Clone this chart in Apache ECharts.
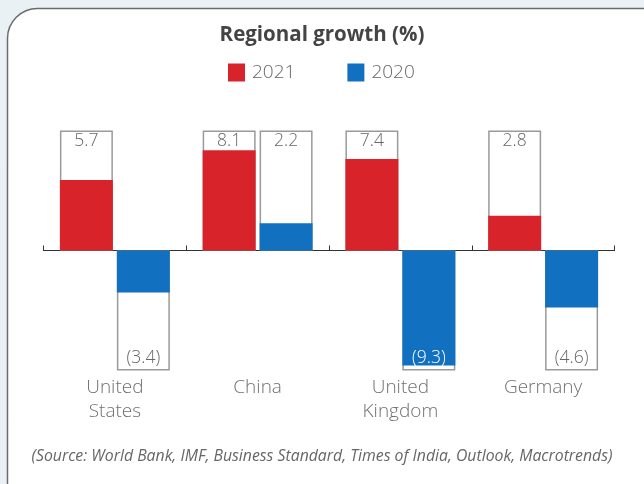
<!DOCTYPE html>
<html><head><meta charset="utf-8">
<script src="https://cdn.jsdelivr.net/npm/echarts@6/dist/echarts.min.js"></script>
<style>html,body{margin:0;padding:0;background:#e9f1f4;}#c{width:644px;height:484px;}</style>
</head><body><div id="c"></div>
<script>
const categories = ['United\nStates', 'China', 'United\nKingdom', 'Germany'];
const growth2021 = [5.7, 8.1, 7.4, 2.8];
const growth2020 = [-3.4, 2.2, -9.3, -4.6];
const seriesNames = ['2021', '2020'];
const BOX = 9.7;

const RED = '#d9232b', BLUE = '#1170bf';
const FONT = '"Open Sans", sans-serif';

function fmt(v){ return v < 0 ? '(' + Math.abs(v).toFixed(1) + ')' : v.toFixed(1); }
function boxData(arr){ return arr.map(v => v >= 0 ? BOX : -BOX); }
function labelData(arr){
  return arr.map(v => ({
    value: v >= 0 ? BOX : -BOX,
    label: {
      show: true,
      position: v >= 0 ? 'insideTop' : 'insideBottom',
      distance: v >= 0 ? 2 : 3,
      formatter: fmt(v),
      color: Math.abs(v) > BOX * 0.9 ? '#ffffff' : '#666666',
      fontSize: 17.5, fontWeight: 300, fontFamily: FONT
    }
  }));
}

const common = { barCategoryGap: '23%', barGap: '7.5%' };
const chart = echarts.init(document.getElementById('c'), null, {renderer: 'canvas'});
chart.setOption({
  animation: false,
  backgroundColor: '#e9f1f4',
  graphic: [{
    type: 'rect', z: -10, silent: true,
    shape: { x: 7.5, y: 8.5, width: 700, height: 520, r: 30 },
    style: { fill: '#ffffff', stroke: '#6b6b6b', lineWidth: 1.5 }
  }, {
    type: 'text', left: 'center', top: 448,
    style: { text: '(Source: World Bank, IMF, Business Standard, Times of India, Outlook, Macrotrends)',
      fill: '#666666', font: 'italic 15.8px ' + FONT }
  }],
  title: {
    text: 'Regional growth (%)', left: 'center', top: 20,
    textStyle: { fontSize: 20.5, fontWeight: 'bold', color: '#444444', fontFamily: FONT }
  },
  legend: {
    data: seriesNames, left: 223, top: 58, icon: 'rect', itemWidth: 17, itemHeight: 18, itemGap: 52,
    textStyle: { fontSize: 19, fontWeight: 300, color: '#666666', fontFamily: FONT, padding: [0,0,0,2] }
  },
  grid: { left: 43.5, right: 29.5, top: 130.5, bottom: 113.5 },
  xAxis: [{
    type: 'category', data: categories,
    axisLine: { onZero: true, lineStyle: { color: '#333333', width: 1.2 } },
    axisTick: { show: true, inside: true, length: 5, lineStyle: { color: '#333333' } },
    axisLabel: { show: false }
  }, {
    type: 'category', data: categories, position: 'bottom',
    axisLine: { show: false, onZero: false }, axisTick: { show: false },
    axisLabel: { show: true, margin: 5, fontSize: 19, fontWeight: 300, lineHeight: 24, color: '#707070', fontFamily: FONT }
  }, {
    type: 'category', data: categories, show: false
  }],
  yAxis: { type: 'value', min: -BOX, max: BOX, show: false, splitLine: { show: false } },
  series: [
    Object.assign({ type: 'bar', name: 'box2021', xAxisIndex: 1, z: 1, silent: true, data: boxData(growth2021),
      itemStyle: { color: '#ffffff', borderColor: '#9a9a9a', borderWidth: 1.5 } }, common),
    Object.assign({ type: 'bar', name: 'box2020', xAxisIndex: 1, z: 1, silent: true, data: boxData(growth2020),
      itemStyle: { color: '#ffffff', borderColor: '#9a9a9a', borderWidth: 1.5 } }, common),
    Object.assign({ type: 'bar', name: seriesNames[0], xAxisIndex: 0, z: 2, data: growth2021, itemStyle: { color: RED } }, common),
    Object.assign({ type: 'bar', name: seriesNames[1], xAxisIndex: 0, z: 2, data: growth2020, itemStyle: { color: BLUE } }, common),
    Object.assign({ type: 'bar', name: 'lab2021', xAxisIndex: 2, z: 5, silent: true, data: labelData(growth2021),
      itemStyle: { color: 'rgba(0,0,0,0)' } }, common),
    Object.assign({ type: 'bar', name: 'lab2020', xAxisIndex: 2, z: 5, silent: true, data: labelData(growth2020),
      itemStyle: { color: 'rgba(0,0,0,0)' } }, common)
  ]
});
</script></body></html>
